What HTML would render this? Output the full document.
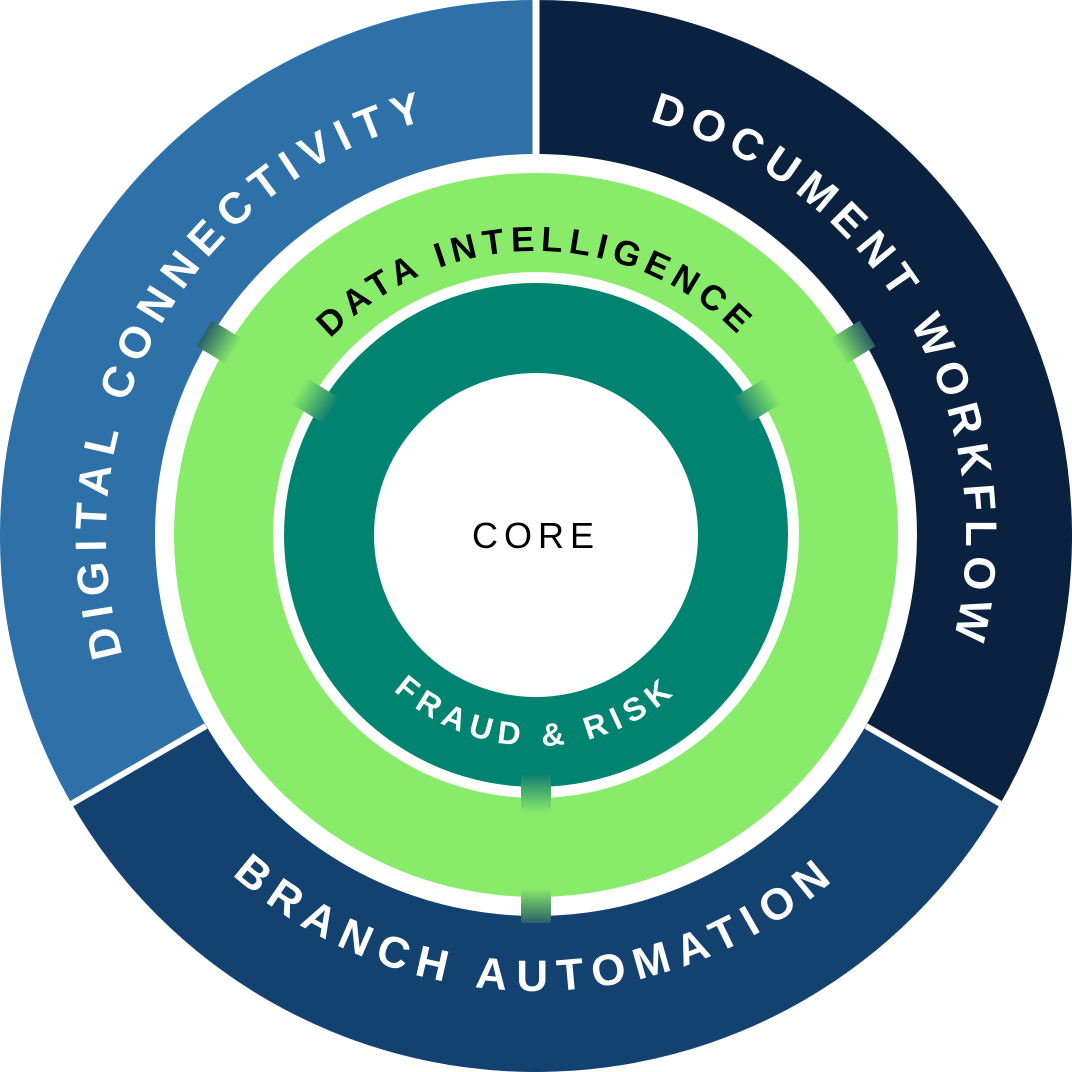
<!DOCTYPE html>
<html><head><meta charset="utf-8"><style>
html,body{margin:0;padding:0;background:#fff;}
svg{display:block}
text{font-family:"Liberation Sans","DejaVu Sans",sans-serif;font-weight:bold;white-space:pre;}
</style></head><body>
<svg width="1072" height="1072" viewBox="0 0 1072 1072" xmlns="http://www.w3.org/2000/svg">
<defs>
<linearGradient id="gOut" x1="0" y1="0" x2="1" y2="0">
<stop offset="0" stop-color="#88eb6a"/>
<stop offset="0.25" stop-color="#88eb6a"/>
<stop offset="1" stop-color="#2a6068"/>
</linearGradient>
<linearGradient id="gIn" x1="0" y1="0" x2="1" y2="0">
<stop offset="0" stop-color="#0f806e"/>
<stop offset="0.35" stop-color="#3fa56d"/>
<stop offset="1" stop-color="#88eb6a"/>
</linearGradient>
<path id="pDig" d="M163.6,751 A430,430 0 0 1 536,106"/>
<path id="pDoc" d="M536,106 A430,430 0 0 1 908.4,751"/>
<path id="pBr" d="M142,763.5 A455,455 0 0 0 930,763.5"/>
<path id="pData" d="M251,536 A285,285 0 0 1 821,536"/>
<path id="pFr" d="M326,536 A210,210 0 0 0 746,536"/>
</defs>
<path d="M536,536 L536,0 A536,536 0 0 0 71.8,804 Z" fill="#2d71a8"/>
<path d="M536,536 L536,0 A536,536 0 0 1 1000.2,804 Z" fill="#0a2240"/>
<path d="M536,536 L71.8,804 A536,536 0 0 0 1000.2,804 Z" fill="#134271"/>
<line x1="536" y1="0" x2="536" y2="160" stroke="#fff" stroke-width="7"/>
<line x1="206" y1="726" x2="66" y2="807" stroke="#fff" stroke-width="6"/>
<line x1="866" y1="726" x2="1006" y2="807" stroke="#fff" stroke-width="6"/>
<circle cx="536" cy="535" r="381" fill="#fff"/>
<circle cx="536" cy="535" r="362" fill="#88eb6a"/>
<circle cx="536" cy="535" r="263" fill="#fff"/>
<circle cx="536" cy="535" r="252" fill="#008371"/>
<circle cx="536" cy="535" r="162" fill="#fff"/>
<g>
<rect x="878" y="520" width="46" height="30" fill="url(#gOut)" transform="rotate(-148.7 536 535)"/>
<rect x="878" y="520" width="46" height="30" fill="url(#gOut)" transform="rotate(-31.3 536 535)"/>
<rect x="878" y="520" width="46" height="30" fill="url(#gOut)" transform="rotate(90 536 535)"/>
<rect x="776" y="520" width="38" height="30" fill="url(#gIn)" transform="rotate(-148.7 536 535)"/>
<rect x="776" y="520" width="38" height="30" fill="url(#gIn)" transform="rotate(-31.3 536 535)"/>
<rect x="776" y="520" width="38" height="30" fill="url(#gIn)" transform="rotate(90 536 535)"/>
</g>
<text font-size="44" fill="#fff" letter-spacing="9"><textPath href="#pDig" startOffset="50%" text-anchor="middle">DIGITAL CONNECTIVITY</textPath></text>
<text font-size="44" fill="#fff" letter-spacing="8"><textPath href="#pDoc" startOffset="50%" text-anchor="middle">DOCUMENT WORKFLOW</textPath></text>
<text font-size="44" fill="#fff" letter-spacing="10"><textPath href="#pBr" startOffset="50%" text-anchor="middle">BRANCH AUTOMATION</textPath></text>
<text font-size="35" fill="#000" letter-spacing="6"><textPath href="#pData" startOffset="50%" text-anchor="middle">DATA INTELLIGENCE</textPath></text>
<text font-size="32" fill="#fff" letter-spacing="7"><textPath href="#pFr" startOffset="50%" text-anchor="middle">FRAUD &amp; RISK</textPath></text>
<text x="536" y="548" font-size="36" fill="#000" text-anchor="middle" letter-spacing="6" style="font-weight:normal">CORE</text>
</svg>
</body></html>
